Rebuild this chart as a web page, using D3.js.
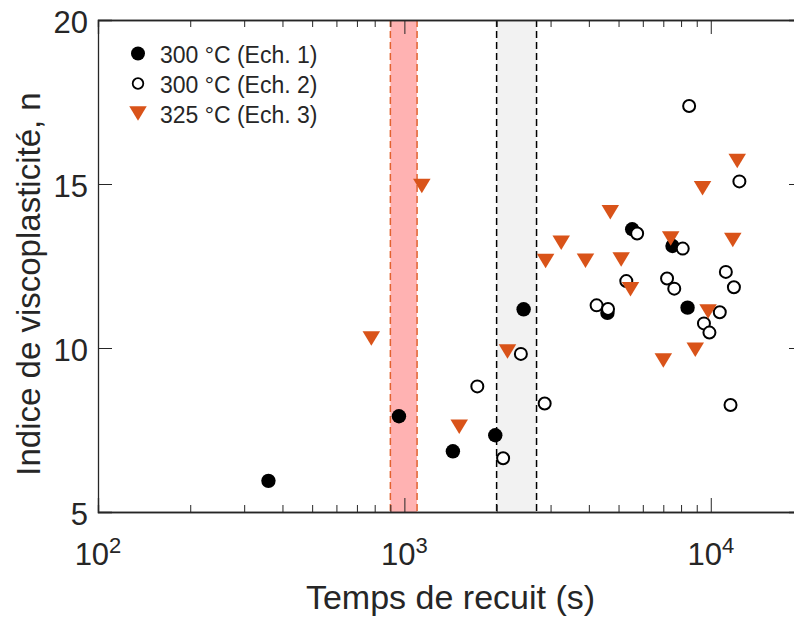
<!DOCTYPE html>
<html>
<head>
<meta charset="utf-8">
<script src="https://cdn.jsdelivr.net/npm/d3@7"></script>
<style>
  html, body { margin: 0; padding: 0; background: #fff; overflow: hidden; }
  svg { display: block; }
  text { font-family: "Liberation Sans", Arial, Helvetica, sans-serif; fill: #262626; }
</style>
</head>
<body>
<svg id="chart" width="794" height="619"></svg>
<script>
// ---- Data ----
const ech1Time = [360, 960, 1440, 1980, 2450, 4600, 5540, 7500, 8400];
const ech1N    = [5.95, 7.92, 6.85, 7.34, 11.18, 11.07, 13.62, 13.11, 11.23];

const ech2Time = [1730, 2100, 2400, 2870, 4240, 4620, 5300, 5750, 7200, 7600, 8100, 8500, 9500, 9900, 10700, 11200, 11600, 11900, 12400];
const ech2N    = [8.83, 6.64, 9.82, 8.31, 11.30, 11.19, 12.04, 13.49, 12.12, 11.81, 13.03, 17.38, 10.75, 10.47, 11.09, 12.32, 8.26, 11.85, 15.08];

const ech3Time = [780, 1140, 1510, 2170, 2890, 3250, 3900, 4700, 5100, 5470, 7000, 7400, 8900, 9400, 9800, 11800, 12200];
const ech3N    = [10.29, 14.94, 7.60, 9.89, 12.65, 13.21, 12.66, 14.14, 12.70, 11.79, 9.62, 13.34, 9.95, 14.87, 11.11, 13.29, 15.70];

const seriesLabels = ["300 °C (Ech. 1)", "300 °C (Ech. 2)", "325 °C (Ech. 3)"];
const pinkBand = [900, 1100];
const grayBand = [2000, 2700];
const xDomain = [100, 20000];
const yDomain = [5, 20];
const xMajorTicks = [100, 1000, 10000];
const xMinorTicks = [200, 300, 400, 500, 600, 700, 800, 900, 2000, 3000, 4000, 5000, 6000, 7000, 8000, 9000];
const xTickExponents = ["2", "3", "4"];
const yTicks = [5, 10, 15, 20];
const xLabel = "Temps de recuit (s)";
const yLabel = "Indice de viscoplasticité, n";

// ---- Layout ----
const L = 98, R = 803, T = 20, B = 512;
const axisColor = "#262626";
const orange = "#D95319";

const svg = d3.select("#chart");
const x = d3.scaleLog().domain(xDomain).range([L, R]);
const y = d3.scaleLinear().domain(yDomain).range([B, T]);

// Bands
function band(range, fill, stroke) {
  svg.append("rect")
    .attr("x", x(range[0])).attr("y", T)
    .attr("width", x(range[1]) - x(range[0])).attr("height", B - T)
    .attr("fill", fill);
  range.forEach(v => {
    svg.append("line")
      .attr("x1", x(v)).attr("x2", x(v)).attr("y1", T).attr("y2", B)
      .attr("stroke", stroke).attr("stroke-width", 1.5)
      .attr("stroke-dasharray", "7,4");
  });
}
band(pinkBand, "#ffb2b2", "#e2622f");
band(grayBand, "#f2f2f2", "#000");

// Axes (box with inward ticks)
const gAxis = svg.append("g");
const majorLen = 14, minorLen = 7;
const axB = d3.axisBottom(x).tickValues(xMajorTicks).tickSize(-majorLen).tickFormat("");
const axT = d3.axisTop(x).tickValues(xMajorTicks).tickSize(-majorLen).tickFormat("");
const axBm = d3.axisBottom(x).tickValues(xMinorTicks).tickSize(-minorLen).tickFormat("");
const axTm = d3.axisTop(x).tickValues(xMinorTicks).tickSize(-minorLen).tickFormat("");
const axL = d3.axisLeft(y).tickValues(yTicks).tickSize(-majorLen).tickFormat("");
const axR = d3.axisRight(y).tickValues(yTicks).tickSize(-majorLen).tickFormat("");

function styleAxis(g) {
  g.selectAll("path.domain").attr("stroke", axisColor).attr("stroke-width", 1.3);
  g.selectAll(".tick line").attr("stroke", axisColor).attr("stroke-width", 1);
}
gAxis.append("g").attr("transform", `translate(0,${B})`).call(axB).call(styleAxis);
gAxis.append("g").attr("transform", `translate(0,${B})`).call(axBm).call(styleAxis);
gAxis.append("g").attr("transform", `translate(0,${T})`).call(axT).call(styleAxis);
gAxis.append("g").attr("transform", `translate(0,${T})`).call(axTm).call(styleAxis);
gAxis.append("g").attr("transform", `translate(${L},0)`).call(axL).call(styleAxis);
gAxis.append("g").attr("transform", `translate(${R},0)`).call(axR).call(styleAxis);

// Tick labels
const tickFont = 31;
yTicks.forEach(v => {
  svg.append("text")
    .attr("x", L - 10).attr("y", y(v) + 12.5)
    .attr("text-anchor", "end")
    .attr("font-size", tickFont)
    .text(v);
});
xMajorTicks.forEach((v, i) => {
  const t = svg.append("text")
    .attr("x", x(v)).attr("y", B + 53)
    .attr("text-anchor", "middle")
    .attr("font-size", tickFont);
  t.append("tspan").text("10");
  t.append("tspan").attr("font-size", 22).attr("dy", -12).text(xTickExponents[i]);
});

// Axis labels
svg.append("text")
  .attr("x", (L + R) / 2).attr("y", 609)
  .attr("text-anchor", "middle")
  .attr("font-size", 34)
  .text(xLabel);
svg.append("text")
  .attr("transform", `translate(40,${(T + B) / 2 + 18}) rotate(-90)`)
  .attr("text-anchor", "middle")
  .attr("font-size", 33)
  .text(yLabel);

// Markers
const triW = 17.5, triH = 14.5;
const triPath = `M${-triW/2},${-triH/2}L${triW/2},${-triH/2}L0,${triH/2}Z`;

const g1 = svg.append("g");
g1.selectAll("circle").data(d3.zip(ech1Time, ech1N)).join("circle")
  .attr("cx", d => x(d[0])).attr("cy", d => y(d[1]))
  .attr("r", 7.2).attr("fill", "#000");

const g2 = svg.append("g");
g2.selectAll("circle").data(d3.zip(ech2Time, ech2N)).join("circle")
  .attr("cx", d => x(d[0])).attr("cy", d => y(d[1]))
  .attr("r", 6).attr("fill", "#fff").attr("stroke", "#000").attr("stroke-width", 2);

const g3 = svg.append("g");
g3.selectAll("path").data(d3.zip(ech3Time, ech3N)).join("path")
  .attr("transform", d => `translate(${x(d[0])},${y(d[1])})`)
  .attr("d", triPath).attr("fill", orange);

// Legend
const legX = 138, legY = [53.5, 83.5, 113.5];
svg.append("circle").attr("cx", legX).attr("cy", legY[0]).attr("r", 7).attr("fill", "#000");
svg.append("circle").attr("cx", legX).attr("cy", legY[1]).attr("r", 5.3)
  .attr("fill", "#fff").attr("stroke", "#000").attr("stroke-width", 1.8);
svg.append("path").attr("transform", `translate(${legX},${legY[2]})`).attr("d", triPath).attr("fill", orange);
seriesLabels.forEach((s, i) => {
  svg.append("text").attr("x", 160).attr("y", legY[i] + 9)
    .attr("font-size", 23).text(s);
});
</script>
</body>
</html>
